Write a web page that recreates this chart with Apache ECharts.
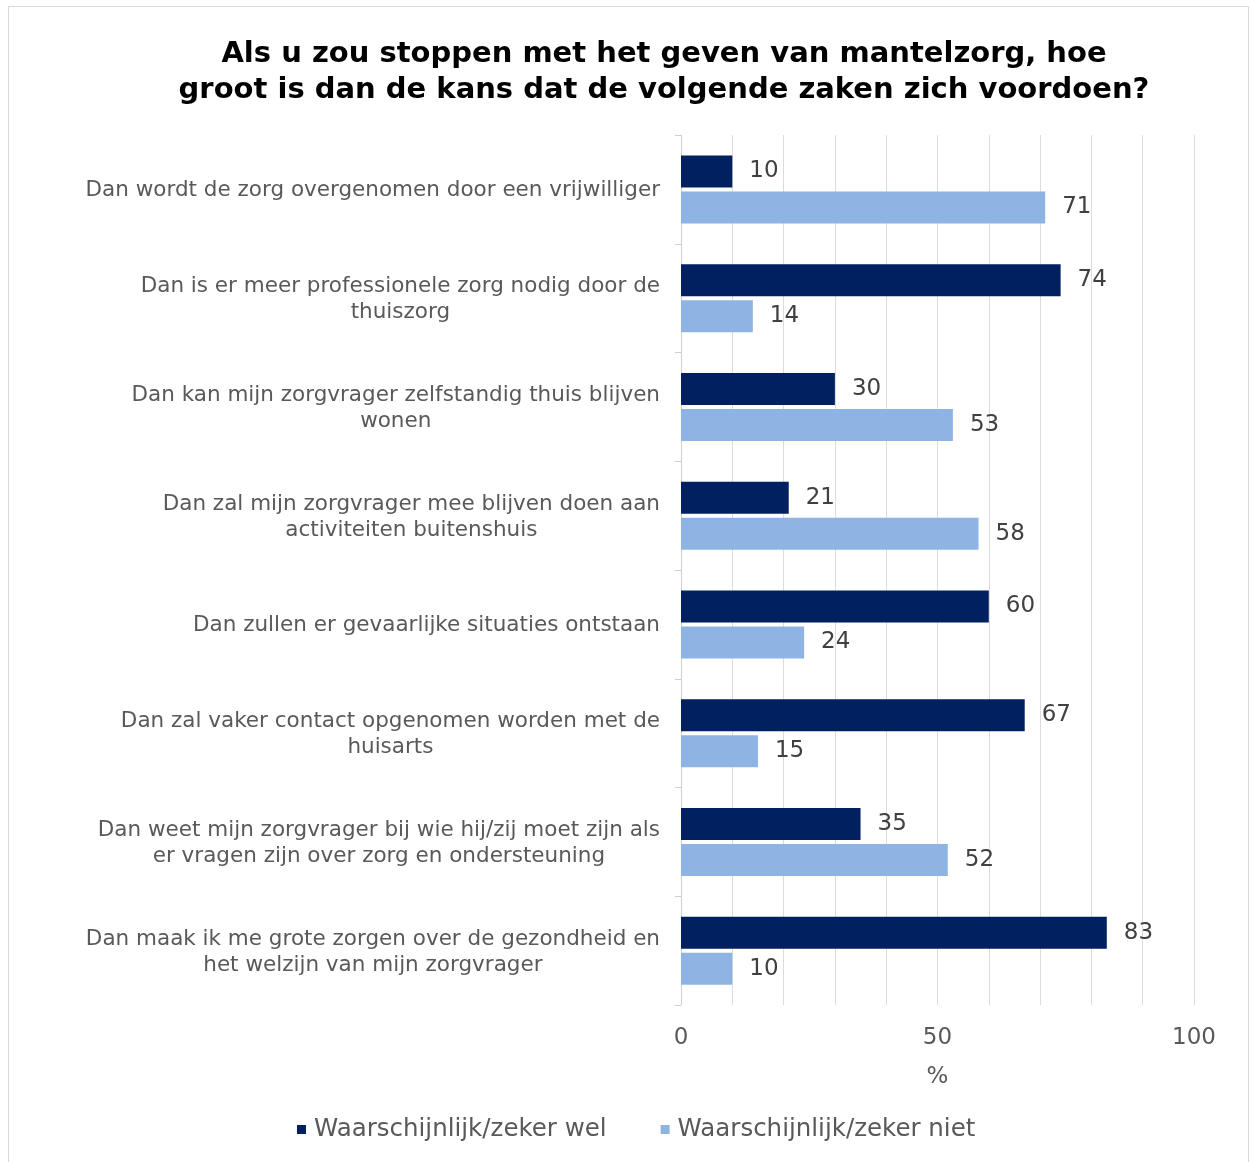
<!DOCTYPE html>
<html>
<head>
<meta charset="utf-8">
<script src="https://cdn.jsdelivr.net/npm/echarts@6/dist/echarts.min.js"></script>
<style>
  html, body { margin: 0; padding: 0; background: #fff; }
  #frame { position: absolute; left: 8px; top: 6px; width: 1239px; height: 1160px; border: 1px solid #d9d9d9; border-bottom: none; }
  #chart { position: absolute; left: 0; top: 0; width: 1250px; height: 1162px; }
</style>
</head>
<body>
<div id="frame"></div>
<div id="chart"></div>
<script>
const titleText = 'Als u zou stoppen met het geven van mantelzorg, hoe\ngroot is dan de kans dat de volgende zaken zich voordoen?'

const categories = [
  'Dan wordt de zorg overgenomen door een vrijwilliger',
  'Dan is er meer professionele zorg nodig door de\nthuiszorg',
  'Dan kan mijn zorgvrager zelfstandig thuis blijven\nwonen',
  'Dan zal mijn zorgvrager mee blijven doen aan\nactiviteiten buitenshuis',
  'Dan zullen er gevaarlijke situaties ontstaan',
  'Dan zal vaker contact opgenomen worden met de\nhuisarts',
  'Dan weet mijn zorgvrager bij wie hij/zij moet zijn als\ner vragen zijn over zorg en ondersteuning',
  'Dan maak ik me grote zorgen over de gezondheid en\nhet welzijn van mijn zorgvrager'
]

const seriesNames = ['Waarschijnlijk/zeker wel', 'Waarschijnlijk/zeker niet']
const welValues = [10, 74, 30, 21, 60, 67, 35, 83]
const nietValues = [71, 14, 53, 58, 24, 15, 52, 10]

const xTickLabels = [0, 50, 100]

const font = 'DejaVu Sans, Verdana, sans-serif'

const chart = echarts.init(document.getElementById('chart'))

const barLabel = {
  show: true,
  position: 'right',
  distance: 17,
  fontFamily: font,
  fontSize: 23,
  color: '#404040'
}

chart.setOption({
  animation: false,
  title: {
    text: titleText,
    left: 659,
    top: 31,
    textAlign: 'center',
    textStyle: {
      fontFamily: font,
      fontSize: 29,
      fontWeight: 'bold',
      color: '#000',
      lineHeight: 36
    }
  },
  legend: {
    bottom: 15,
    left: 292,
    icon: 'rect',
    itemWidth: 9,
    itemHeight: 9,
    itemGap: 54,
    data: seriesNames,
    textStyle: { fontFamily: font, fontSize: 24.5, color: '#595959', padding: [0, 0, 0, 3] }
  },
  grid: {
    left: 681,
    right: 56,
    top: 135,
    bottom: 157,
    containLabel: false
  },
  xAxis: {
    type: 'value',
    min: 0,
    max: 100,
    interval: 10,
    name: '%',
    nameLocation: 'middle',
    nameGap: 61,
    nameTextStyle: { fontFamily: font, fontSize: 23, color: '#595959' },
    axisLine: { show: false },
    axisTick: { show: false },
    axisLabel: {
      margin: 22,
      fontFamily: font,
      fontSize: 23,
      color: '#595959',
      formatter: v => (xTickLabels.includes(v) ? String(v) : '')
    },
    splitLine: { show: true, lineStyle: { color: '#dcdcdc', width: 1 } }
  },
  yAxis: {
    type: 'category',
    inverse: true,
    data: categories,
    axisLine: { show: true, lineStyle: { color: '#d0d0d0', width: 1 } },
    axisTick: { show: true, length: 6, lineStyle: { color: '#d0d0d0' } },
    axisLabel: {
      margin: 21,
      align: 'right',
      padding: [3, 0, 0, 0],
      formatter: v => v.split('\n').map(l => '{c|' + l + '}').join('\n'),
      rich: {
        c: {
          align: 'center',
          fontFamily: font,
          fontSize: 21.5,
          lineHeight: 26,
          color: '#595959'
        }
      }
    }
  },
  series: [
    {
      name: seriesNames[0],
      type: 'bar',
      data: welValues,
      barWidth: 32,
      barGap: '12.5%',
      itemStyle: { color: '#002060' },
      label: barLabel
    },
    {
      name: seriesNames[1],
      type: 'bar',
      data: nietValues,
      barWidth: 32,
      barGap: '12.5%',
      itemStyle: { color: '#8eb4e3' },
      label: barLabel
    }
  ]
})
</script>
</body>
</html>
